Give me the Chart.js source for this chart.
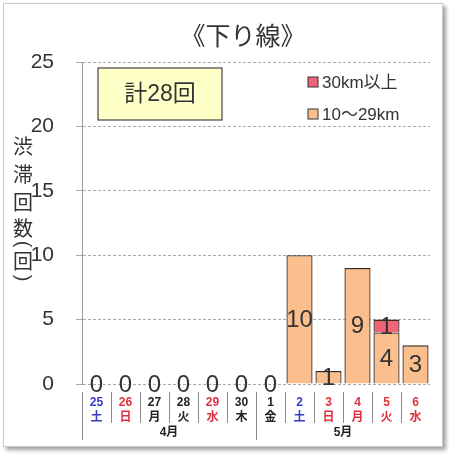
<!DOCTYPE html>
<html>
<head>
<meta charset="utf-8">
<script src="https://cdn.jsdelivr.net/npm/chart.js@4"></script>
<style>
  body { margin: 0; background: #fff; }
  #frame { position: absolute; left: 3px; top: 3px; width: 438px; height: 442px; border: 1px solid #c8c8c8; box-shadow: 3px 3px 4px #a0a0a0; background: #fff; }
  #wrap { position: absolute; left: 0; top: 0; width: 450px; height: 454px; }
</style>
</head>
<body>
<div id="frame"></div>
<div id="wrap"><canvas id="chart" width="450" height="454"></canvas></div>
<script>
const days = ["25", "26", "27", "28", "29", "30", "1", "2", "3", "4", "5", "6"];
const weekdays = ["土", "日", "月", "火", "水", "木", "金", "土", "日", "月", "火", "水"];
const dayColors = ["#3a3ac8", "#e0303c", "#222", "#222", "#e0303c", "#222", "#222", "#3a3ac8", "#e0303c", "#e0303c", "#e0303c", "#e0303c"];
const months = ["4月", "5月"];
const monthSizes = [6, 6];
const mid = [0, 0, 0, 0, 0, 0, 0, 10, 1, 9, 4, 3];   // 10〜29km
const long = [0, 0, 0, 0, 0, 0, 0, 0, 0, 0, 1, 0];  // 30km以上
const yTicks = [0, 5, 10, 15, 20, 25];
const total = "計28回";
const yTitle = ["渋", "滞", "回", "数", "(", "回", ")"];

const FONT = "'Liberation Sans', 'Noto Sans CJK JP', sans-serif";
const CJK = "'Noto Sans CJK JP', sans-serif";

const extras = {
  id: "extras",
  afterDatasetsDraw(chart) {
    const ctx = chart.ctx;
    const area = chart.chartArea;
    const x = chart.scales.x;
    ctx.save();
    // value labels
    ctx.fillStyle = "#333";
    ctx.font = "24px " + FONT;
    ctx.textAlign = "center";
    ctx.textBaseline = "middle";
    chart.data.datasets.forEach((ds, di) => {
      const meta = chart.getDatasetMeta(di);
      meta.data.forEach((bar, i) => {
        const v = ds.data[i];
        if (di === 1 && !v) return;
        const yc = v ? (bar.y + bar.base) / 2 : bar.base;
        ctx.fillText(String(v), bar.x, yc + 1);
      });
    });

    // total box
    ctx.fillStyle = "#ffffc8";
    ctx.strokeStyle = "#444";
    ctx.lineWidth = 1.2;
    ctx.fillRect(98, 68, 124, 52);
    ctx.strokeRect(98, 68, 124, 52);
    ctx.fillStyle = "#333";
    ctx.font = "23px " + FONT;
    ctx.fillText(total, 160, 95);

    // legend
    ctx.font = "17px " + FONT;
    ctx.textAlign = "left";
    const legendItems = [chart.data.datasets[1], chart.data.datasets[0]];
    legendItems.forEach((ds, k) => {
      const ly = 82 + k * 32;
      ctx.fillStyle = ds.backgroundColor;
      ctx.fillRect(308, ly - 5, 10, 10);
      ctx.strokeStyle = "#333";
      ctx.lineWidth = 1;
      ctx.strokeRect(308, ly - 5, 10, 10);
      ctx.fillStyle = "#333";
      ctx.fillText(ds.label, 322, ly + 1);
    });

    // title
    ctx.textAlign = "center";
    ctx.font = "25px " + CJK;
    ctx.fillText("《下り線》", 243, 35);

    // y axis title, stacked vertically (brackets turned sideways)
    const gaps = [28, 28, 26, 16, 17, 17, 0];
    let cy = 146;
    yTitle.forEach((ch, i) => {
      if (ch === "(" || ch === ")") {
        ctx.save();
        ctx.font = "20px " + FONT;
        ctx.translate(23, cy);
        ctx.rotate(Math.PI / 2);
        ctx.fillText(ch, 0, 0);
        ctx.restore();
      } else {
        ctx.font = "20px " + CJK;
        ctx.fillText(ch, 23, cy);
      }
      cy += gaps[i];
    });

    // category separators and month labels
    ctx.strokeStyle = "#888";
    ctx.lineWidth = 1;
    const step = x.getPixelForValue(1) - x.getPixelForValue(0);
    let start = 0;
    ctx.font = "bold 12px " + FONT;
    months.forEach((m, g) => {
      for (let i = start; i < start + monthSizes[g]; i++) {
        const lx = Math.round(x.getPixelForValue(i) - step / 2) + 0.5;
        ctx.beginPath();
        ctx.moveTo(lx, area.bottom + 8);
        ctx.lineTo(lx, area.bottom + (i === start ? 56 : 39));
        ctx.stroke();
      }
      const c = (x.getPixelForValue(start) + x.getPixelForValue(start + monthSizes[g] - 1)) / 2;
      ctx.fillStyle = "#222";
      ctx.fillText(m, c, area.bottom + 49);
      start += monthSizes[g];
    });
    ctx.restore();
  }
};

new Chart("chart", {
  type: "bar",
  data: {
    labels: days.map((d, i) => [d, weekdays[i]]),
    datasets: [
      {
        label: "10〜29km",
        data: mid,
        backgroundColor: "#fbbf8e",
        borderColor: "#3a2a20",
        borderWidth: 1.3,
        barPercentage: 0.9,
        categoryPercentage: 1,
      },
      {
        label: "30km以上",
        data: long,
        backgroundColor: "#f06478",
        borderColor: "#3a2a20",
        borderWidth: 1.3,
        barPercentage: 0.9,
        categoryPercentage: 1,
      },
    ],
  },
  options: {
    responsive: false,
    animation: false,
    layout: { padding: { left: 0, right: 20, top: 62, bottom: 0 } },
    plugins: { legend: { display: false }, tooltip: { enabled: false } },
    scales: {
      x: {
        stacked: true,
        grid: { display: false },
        border: { display: false },
        afterFit: (s) => { s.height = 70; },
        ticks: {
          padding: 3,
          autoSkip: false,
          maxRotation: 0,
          color: (c) => dayColors[c.index],
          font: { size: 12, weight: "bold", family: FONT, lineHeight: 1.25 },
        },
      },
      y: {
        stacked: true,
        min: 0,
        max: 25,
        afterBuildTicks: (s) => { s.ticks = yTicks.map((v) => ({ value: v })); },
        afterFit: (s) => { s.width = 82; },
        grid: { color: "#aaa", tickLength: 6 },
        border: { color: "#999", dash: [3, 2] },
        ticks: {
          padding: 22,
          color: "#333",
          font: { size: 21, family: FONT },
        },
      },
    },
  },
  plugins: [extras],
});
</script>
</body>
</html>
